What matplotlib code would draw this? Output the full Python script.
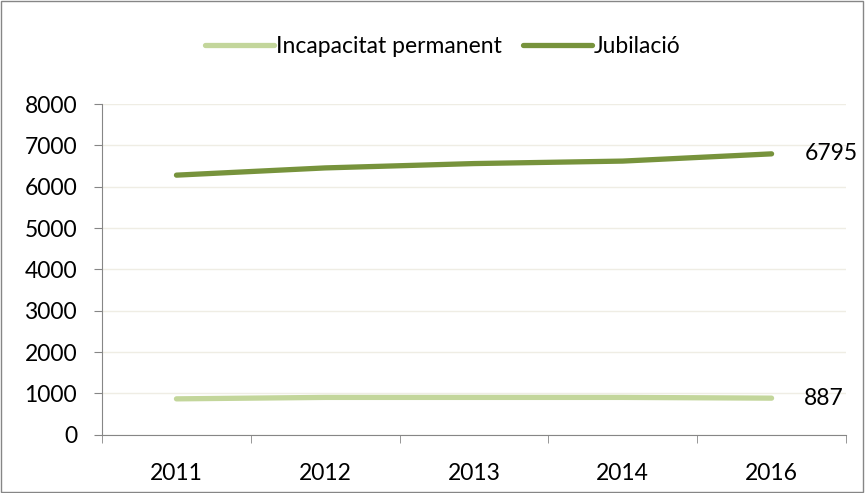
import matplotlib.pyplot as plt
from matplotlib.patches import Rectangle

# Data
years = ["2011", "2012", "2013", "2014", "2016"]
incapacitat = [870, 905, 905, 905, 887]
jubilacio = [6280, 6455, 6560, 6620, 6795]

light_green = "#C3D69B"
dark_green = "#77933C"

plt.rcParams["font.family"] = ["Lato", "DejaVu Sans"]
fs = 16.5

fig = plt.figure(figsize=(8.65, 4.93), dpi=100)
ax = fig.add_axes([0.118, 0.118, 0.860, 0.671])

x = list(range(len(years)))
ax.plot(x, incapacitat, color=light_green, lw=3.8, solid_capstyle="round",
        label="Incapacitat permanent")
ax.plot(x, jubilacio, color=dark_green, lw=3.8, solid_capstyle="round",
        label="Jubilació")

# end labels
ax.text(x[-1] + 0.22, jubilacio[-1], str(jubilacio[-1]), va="center", ha="left", fontsize=fs)
ax.text(x[-1] + 0.22, incapacitat[-1], str(incapacitat[-1]), va="center", ha="left", fontsize=fs)

ax.set_xlim(-0.5, len(years) - 0.5)
ax.set_ylim(0, 8000)
ax.set_yticks(range(0, 8001, 1000))
ax.set_xticks(x)
ax.set_xticklabels(years)
ax.set_xticks([i - 0.5 for i in range(len(years) + 1)], minor=True)
ax.tick_params(axis="x", which="major", length=0, pad=20, labelsize=fs)
ax.tick_params(axis="x", which="minor", length=6, color="#868686", direction="out")
ax.tick_params(axis="y", length=6, color="#868686", pad=12, labelsize=fs)

ax.grid(axis="y", color="#EFEDE4", lw=1)
ax.set_axisbelow(True)
for s in ["top", "right"]:
    ax.spines[s].set_visible(False)
for s in ["left", "bottom"]:
    ax.spines[s].set_color("#868686")

ax.legend(loc="center", bbox_to_anchor=(0.512, 0.905), bbox_transform=fig.transFigure,
          ncol=2, frameon=False, fontsize=fs, handlelength=3.0, handletextpad=0.1,
          columnspacing=0.9)

# outer border of the chart
fig.patches.append(Rectangle((0.001, 0.002), 0.997, 0.996, transform=fig.transFigure,
                             fill=False, edgecolor="#868686", lw=1))

fig.savefig("out.png", dpi=100)
